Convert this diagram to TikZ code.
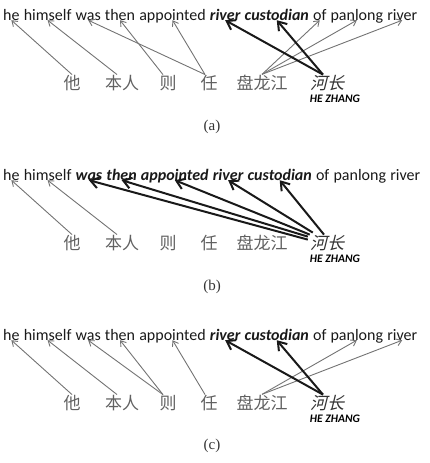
\documentclass[tikz,border=0pt]{standalone}
\usepackage{fontspec}
\setmainfont{Liberation Serif}
\newfontfamily\enfont{Carlito}
\newfontfamily\cjkfont{Noto Sans CJK SC}
\newfontfamily\cjkslant[FakeSlant=0.25]{Noto Sans CJK SC}
\usetikzlibrary{positioning, arrows.meta}

\begin{document}
\begin{tikzpicture}[
    x=1pt, y=-1pt,
    word/.style={
        inner sep=0pt,
        text depth=0pt,
        text=black!90,
        font=\enfont\fontsize{16}{19}\selectfont
    },
    keyword/.style={
        word,
        font=\enfont\fontsize{16}{19}\selectfont\bfseries\itshape
    },
    zh/.style={
        inner sep=0pt,
        anchor=base,
        text=black!62,
        font=\cjkfont\fontsize{17}{20}\selectfont
    },
    zhkey/.style={zh, text=black!80, font=\cjkslant\fontsize{17}{20}\selectfont},
    gloss/.style={
        inner sep=0pt,
        anchor=base,
        font=\enfont\fontsize{11.5}{13}\selectfont\bfseries\itshape
    },
    sublabel/.style={text=black!80, font=\fontsize{15}{18}\selectfont},
    link/.style={-{Straight Barb[length=5pt,width=7pt]}, draw=black!55, line width=0.9pt},
    keylink/.style={-{Straight Barb[length=8pt,width=11pt]}, draw=black!90, line width=2pt}
]
\useasboundingbox (0,0) rectangle (429,463);

% (a) sentence
\node[word, anchor=base west] (heA) at (3,20) {he};
\node[word, base right=3.8pt of heA] (himselfA) {himself};
\node[word, base right=3.8pt of himselfA] (wasA) {was};
\node[word, base right=3.8pt of wasA] (thenA) {then};
\node[word, base right=3.8pt of thenA] (appointedA) {appointed};
\node[keyword, base right=3.8pt of appointedA] (riverA) {river};
\node[keyword, base right=3.8pt of riverA] (custodianA) {custodian};
\node[word, base right=3.8pt of custodianA] (ofA) {of};
\node[word, base right=3.8pt of ofA] (panlongA) {panlong};
\node[word, base right=3.8pt of panlongA] (riverendA) {river};

% (a) chinese
\node[zh] (taA) at (72,89) {他};
\node[zh] (benrenA) at (122,89) {本人};
\node[zh] (zeA) at (168,89) {则};
\node[zh] (renA) at (209,89) {任};
\node[zh] (panlongjiangA) at (262,89) {盘龙江};
\node[zhkey] (hezhangA) at (327,89) {河长};
\node[gloss] (glossA) at (335,102) {HE ZHANG};
\node[sublabel] (capA) at (212,127) {(a)};

% (a) alignments
\draw[link] (taA.north) -- (heA.south);
\draw[link] ([xshift=-5pt]benrenA.north) -- (himselfA.south);
\draw[link] ([xshift=-5pt]zeA.north) -- (thenA.south);
\draw[link] ([xshift=-4pt]renA.north) -- (wasA.south);
\draw[link] ([xshift=-4pt]renA.north) -- (appointedA.south);
\draw[link] (panlongjiangA.north) -- (ofA.south);
\draw[link] (panlongjiangA.north) -- (panlongA.south);
\draw[link] (panlongjiangA.north) -- (riverendA.south);
\draw[keylink] ([xshift=-4pt]hezhangA.north) -- (riverA.south);
\draw[keylink] ([xshift=-4pt]hezhangA.north) -- (custodianA.south);

% (b) sentence
\node[word, anchor=base west] (heB) at (3,180) {he};
\node[word, base right=3.8pt of heB] (himselfB) {himself};
\node[keyword, base right=3.8pt of himselfB] (wasB) {was};
\node[keyword, base right=3.8pt of wasB] (thenB) {then};
\node[keyword, base right=3.8pt of thenB] (appointedB) {appointed};
\node[keyword, base right=3.8pt of appointedB] (riverB) {river};
\node[keyword, base right=3.8pt of riverB] (custodianB) {custodian};
\node[word, base right=3.8pt of custodianB] (ofB) {of};
\node[word, base right=3.8pt of ofB] (panlongB) {panlong};
\node[word, base right=3.8pt of panlongB] (riverendB) {river};

% (b) chinese
\node[zh] (taB) at (72,249) {他};
\node[zh] (benrenB) at (122,249) {本人};
\node[zh] (zeB) at (168,249) {则};
\node[zh] (renB) at (209,249) {任};
\node[zh] (panlongjiangB) at (262,249) {盘龙江};
\node[zhkey] (hezhangB) at (327,249) {河长};
\node[gloss] (glossB) at (335,262) {HE ZHANG};
\node[sublabel] (capB) at (212,287) {(b)};

% (b) alignments
\draw[link] (taB.north) -- (heB.south);
\draw[link] ([xshift=-5pt]benrenB.north) -- (himselfB.south);
\draw[keylink] ([xshift=-2pt,yshift=-5pt]hezhangB.north west) -- (wasB.south);
\draw[keylink] ([xshift=-2pt,yshift=-2pt]hezhangB.north west) -- (thenB.south);
\draw[keylink] (hezhangB.north west) -- (appointedB.south);
\draw[keylink] ([xshift=3pt,yshift=2pt]hezhangB.north west) -- (riverB.south);
\draw[keylink] ([xshift=-3pt]hezhangB.north) -- (custodianB.south);

% (c) sentence
\node[word, anchor=base west] (heC) at (3,340) {he};
\node[word, base right=3.8pt of heC] (himselfC) {himself};
\node[word, base right=3.8pt of himselfC] (wasC) {was};
\node[word, base right=3.8pt of wasC] (thenC) {then};
\node[word, base right=3.8pt of thenC] (appointedC) {appointed};
\node[keyword, base right=3.8pt of appointedC] (riverC) {river};
\node[keyword, base right=3.8pt of riverC] (custodianC) {custodian};
\node[word, base right=3.8pt of custodianC] (ofC) {of};
\node[word, base right=3.8pt of ofC] (panlongC) {panlong};
\node[word, base right=3.8pt of panlongC] (riverendC) {river};

% (c) chinese
\node[zh] (taC) at (72,409) {他};
\node[zh] (benrenC) at (122,409) {本人};
\node[zh] (zeC) at (168,409) {则};
\node[zh] (renC) at (209,409) {任};
\node[zh] (panlongjiangC) at (262,409) {盘龙江};
\node[zhkey] (hezhangC) at (327,409) {河长};
\node[gloss] (glossC) at (335,422) {HE ZHANG};
\node[sublabel] (capC) at (212,446) {(c)};

% (c) alignments
\draw[link] (taC.north) -- (heC.south);
\draw[link] ([xshift=-5pt]benrenC.north) -- (himselfC.south);
\draw[link] ([xshift=-5pt]zeC.north) -- (wasC.south);
\draw[link] ([xshift=-5pt]zeC.north) -- (thenC.south);
\draw[link] ([xshift=-4pt]renC.north) -- (appointedC.south);
\draw[link] (panlongjiangC.north) -- (panlongC.south);
\draw[link] (panlongjiangC.north) -- (riverendC.south);
\draw[keylink] ([xshift=-4pt]hezhangC.north) -- (riverC.south);
\draw[keylink] ([xshift=-4pt]hezhangC.north) -- (custodianC.south);

\end{tikzpicture}
\end{document}
